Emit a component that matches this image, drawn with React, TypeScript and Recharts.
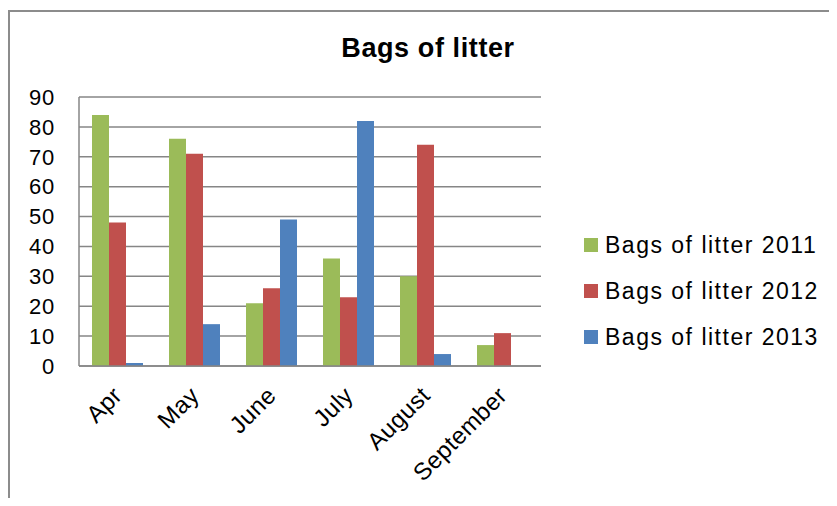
import { BarChart, Bar, XAxis, YAxis, CartesianGrid } from 'recharts';

const months = ['Apr', 'May', 'June', 'July', 'August', 'September'];
const bags2011 = [84, 76, 21, 36, 30, 7];
const bags2012 = [48, 71, 26, 23, 74, 11];
const bags2013 = [1, 14, 49, 82, 4, 0];
const yTicks = [0, 10, 20, 30, 40, 50, 60, 70, 80, 90];

const seriesNames = ['Bags of litter 2011', 'Bags of litter 2012', 'Bags of litter 2013'];
const seriesColors = ['#9BBB59', '#C0504D', '#4F81BD'];

const FONT = '"Liberation Sans", Arial, sans-serif';
const GRID = '#868686';

const data = months.map((m, i) => ({
  month: m,
  s2011: bags2011[i],
  s2012: bags2012[i],
  s2013: bags2013[i],
}));

function MonthTick({ x, y, payload }: any) {
  return (
    <g transform={`translate(${x + 6},${y + 31})`}>
      <text
        x={0}
        y={0}
        textAnchor="end"
        transform="rotate(-45)"
        fontFamily={FONT}
        fontSize={24}
        letterSpacing={0.4}
        fill="#000"
      >
        {payload.value}
      </text>
    </g>
  );
}

export default function App() {
  const keys = ['s2011', 's2012', 's2013'];
  return (
    <div style={{ position: 'relative', width: 829, height: 490, overflow: 'hidden' }}>
      <div
        style={{
          position: 'absolute',
          left: 0,
          top: 2,
          width: 900,
          height: 600,
          borderTop: '2px solid #8c8c8c',
          borderLeft: '2px solid #8c8c8c',
        }}
      />
      <div
        style={{
          position: 'absolute',
          left: 220,
          top: 24,
          width: 400,
          textAlign: 'center',
          fontFamily: FONT,
          fontWeight: 'bold',
          fontSize: 27,
          lineHeight: '32px',
          letterSpacing: 0.6,
        }}
      >
        Bags of litter
      </div>
      <BarChart
        width={829}
        height={490}
        data={data}
        margin={{ top: 89, right: 296, left: 11, bottom: 32 }}
        barCategoryGap={13}
        barGap={0}
        style={{ position: 'absolute', left: 0, top: 0 }}
      >
        <CartesianGrid vertical={false} stroke={GRID} strokeWidth={1.5} />
        <XAxis
          dataKey="month"
          height={100}
          tickLine={false}
          tickSize={0}
          tickMargin={0}
          axisLine={{ stroke: GRID, strokeWidth: 1.5 }}
          tick={<MonthTick />}
          interval={0}
        />
        <YAxis
          width={60}
          domain={[0, 90]}
          ticks={yTicks}
          interval={0}
          tickLine={false}
          tickSize={0}
          tickMargin={24}
          axisLine={{ stroke: GRID, strokeWidth: 1.5 }}
          tick={{ fontFamily: FONT, fontSize: 22, letterSpacing: 0.8, fill: '#000' }}
        />
        {keys.map((k, i) => (
          <Bar
            key={k}
            dataKey={k}
            name={seriesNames[i]}
            fill={seriesColors[i]}
            isAnimationActive={false}
          />
        ))}
      </BarChart>
      <div style={{ position: 'absolute', left: 576, top: 214, fontFamily: FONT }}>
        {seriesNames.map((name, i) => (
          <div key={name} style={{ display: 'flex', alignItems: 'center', height: 46 }}>
            <span
              style={{
                width: 14,
                height: 14,
                background: seriesColors[i],
                marginRight: 7,
                display: 'inline-block',
              }}
            />
            <span style={{ fontSize: 23, letterSpacing: 1.5, color: '#000' }}>{name}</span>
          </div>
        ))}
      </div>
    </div>
  );
}
